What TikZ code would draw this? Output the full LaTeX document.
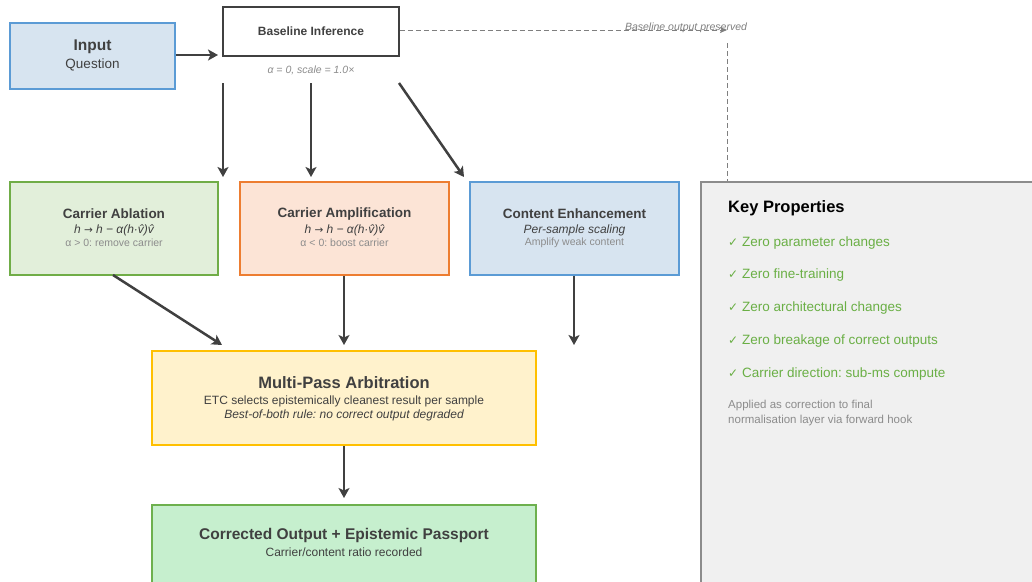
\documentclass[tikz,border=0pt]{standalone}
\usepackage{fontspec}
\setmainfont{Liberation Sans}
\newfontfamily\ckfont{DejaVu Sans}
\usetikzlibrary{arrows.meta}
\frenchspacing

\definecolor{inkdark}{HTML}{404040}
\definecolor{inkgray}{HTML}{8C8C8C}
\definecolor{dashgray}{HTML}{7F7F7F}
\definecolor{bluefill}{HTML}{D7E4F0}
\definecolor{blueedge}{HTML}{5B9BD5}
\definecolor{greenfill}{HTML}{E2EFDA}
\definecolor{greenedge}{HTML}{70AD47}
\definecolor{orangefill}{HTML}{FCE4D6}
\definecolor{orangeedge}{HTML}{ED7D31}
\definecolor{yellowfill}{HTML}{FFF2CC}
\definecolor{yellowedge}{HTML}{FFC000}
\definecolor{mintfill}{HTML}{C6EFCE}
\definecolor{mintedge}{HTML}{6DB04E}
\definecolor{panelfill}{HTML}{F0F0F0}
\definecolor{paneledge}{HTML}{8C8C8C}
\definecolor{okgreen}{HTML}{6AAF45}

\newcommand{\mapsarrow}{{\ckfont\upshape\fontsize{10.5}{12}\selectfont →}}

\tikzset{
  box/.style={draw, line width=1.8pt, inner sep=0pt},
  title/.style={text=inkdark, font=\bfseries\fontsize{13.5}{16}\selectfont},
  formula/.style={text=inkdark, font=\itshape\fontsize{12}{14}\selectfont},
  note/.style={text=inkgray, font=\fontsize{10.5}{12.5}\selectfont},
  flow/.style={draw=inkdark, line width=2.5pt, -{Stealth[length=10pt,width=11pt,inset=2.5pt]}},
  keep/.style={draw=dashgray, line width=0.9pt, dash pattern=on 5pt off 3pt},
  prop/.style={text=okgreen, anchor=west, inner sep=0pt, font=\fontsize{13.5}{16}\selectfont},
}

\begin{document}
\begin{tikzpicture}[x=1pt,y=-1pt]
\useasboundingbox (0,0) rectangle (1032,581);
\fill[white] (0,0) rectangle (1032,581);
\clip (0,0) rectangle (1032,581);

% input and baseline pass
\node[box, fill=bluefill, draw=blueedge, minimum width=165pt, minimum height=66pt] (input) at (92.5,56) {};
\node[text=inkdark, font=\bfseries\fontsize{15.5}{18}\selectfont] (inputT) at (92.5,47) {Input};
\node[text=inkdark, font=\fontsize{13.5}{16}\selectfont] (inputS) at (92.5,65) {Question};

\node[box, fill=white, draw=inkdark, minimum width=176pt, minimum height=49pt] (base) at (311,31.5) {};
\node[text=inkdark, font=\bfseries\fontsize{12}{14}\selectfont] (baseT) at (311,31) {Baseline Inference};
\node[text=inkgray, font=\itshape\fontsize{10.5}{12.5}\selectfont] (baseN) at (311,70) {α = 0, scale = 1.0×};

% three intervention branches
\node[box, fill=greenfill, draw=greenedge, minimum width=208pt, minimum height=93pt] (abl) at (114,228.5) {};
\node[title] (ablT) at (114,214) {Carrier Ablation};
\node[formula] (ablF) at (114,230) {h \mapsarrow{} h − α(h·v̂)v̂};
\node[note] (ablN) at (114,243) {α > 0: remove carrier};

\node[box, fill=orangefill, draw=orangeedge, minimum width=209pt, minimum height=93pt] (amp) at (344.5,228.5) {};
\node[title] (ampT) at (344.5,214) {Carrier Amplification};
\node[formula] (ampF) at (344.5,230) {h \mapsarrow{} h − α(h·v̂)v̂};
\node[note] (ampN) at (344.5,243) {α < 0: boost carrier};

\node[box, fill=bluefill, draw=blueedge, minimum width=209pt, minimum height=93pt] (enh) at (574.5,228.5) {};
\node[title] (enhT) at (574.5,214) {Content Enhancement};
\node[formula] (enhF) at (574.5,230) {Per-sample scaling};
\node[note] (enhN) at (574.5,243) {Amplify weak content};

% arbitration and output
\node[box, line width=2.6pt, fill=yellowfill, draw=yellowedge, minimum width=384pt, minimum height=94pt] (arb) at (344,398) {};
\node[text=inkdark, font=\bfseries\fontsize{16.5}{19}\selectfont] (arbT) at (344,383) {Multi-Pass Arbitration};
\node[text=inkdark, font=\fontsize{12}{14}\selectfont] (arbS) at (344,401) {ETC selects epistemically cleanest result per sample};
\node[text=inkdark, font=\itshape\fontsize{12}{14}\selectfont] (arbR) at (344,415) {Best-of-both rule: no correct output degraded};

\node[box, fill=mintfill, draw=mintedge, minimum width=384pt, minimum height=95pt] (out) at (344,552.5) {};
\node[text=inkdark, font=\bfseries\fontsize{15.5}{18}\selectfont] (outT) at (344,535) {Corrected Output + Epistemic Passport};
\node[text=inkdark, font=\fontsize{12}{14}\selectfont] (outS) at (344,552) {Carrier/content ratio recorded};

% key properties panel
\node[box, fill=panelfill, draw=paneledge, minimum width=340pt, minimum height=420pt, anchor=north west] (panel) at (700,181) {};
\node[anchor=west, inner sep=0pt, text=black, font=\bfseries\fontsize{16.5}{19}\selectfont] (panelT) at (728,208.5) {Key Properties};
\node[prop] (p1) at (728,243) {{\ckfont\fontsize{12}{14}\selectfont ✓} Zero parameter changes};
\node[prop] (p2) at (728,275.5) {{\ckfont\fontsize{12}{14}\selectfont ✓} Zero fine-training};
\node[prop] (p3) at (728,308.5) {{\ckfont\fontsize{12}{14}\selectfont ✓} Zero architectural changes};
\node[prop] (p4) at (728,341) {{\ckfont\fontsize{12}{14}\selectfont ✓} Zero breakage of correct outputs};
\node[prop] (p5) at (728,374) {{\ckfont\fontsize{12}{14}\selectfont ✓} Carrier direction: sub-ms compute};
\node[anchor=north west, inner sep=0pt, text=inkgray, align=left, font=\fontsize{11.5}{15}\selectfont] (pnote) at (728,400) {Applied as correction to final\\normalisation layer via forward hook};

% connector end points
\coordinate (inEnd) at (218,55);
\coordinate (bs1) at (223,83);
\coordinate (bs2) at (311,83);
\coordinate (bs3) at (399,83);
\coordinate (be1) at (223,177);
\coordinate (be2) at (311,177);
\coordinate (be3) at (464,177);
\coordinate (ablS) at (113,275);
\coordinate (ablE) at (222,345);
\coordinate (ampE) at (344,345);
\coordinate (enhE) at (574,345);
\coordinate (arbE) at (344,498);
\coordinate (keepTurn) at (727,30);
\coordinate (keepDrop) at (727,43);

% main flow
\draw[flow] (input.east |- inEnd) -- (inEnd);
\draw[flow] (bs1) -- (be1);
\draw[flow] (bs2) -- (be2);
\draw[flow] (bs3) -- (be3);
\draw[flow] (ablS) -- (ablE);
\draw[flow] (amp.south -| ampE) -- (ampE);
\draw[flow] (enh.south -| enhE) -- (enhE);
\draw[flow] (arb.south) -- (arbE);

% baseline bypass
\draw[keep, -{Stealth[length=7pt,width=6pt,inset=1.5pt]}] (base.east |- keepTurn) -- (keepTurn);
\draw[keep] (keepDrop) -- (keepDrop |- panel.north);
\node[text=dashgray, font=\itshape\fontsize{10.5}{12.5}\selectfont] (keepL) at (686,28) {Baseline output preserved};
\end{tikzpicture}
\end{document}
